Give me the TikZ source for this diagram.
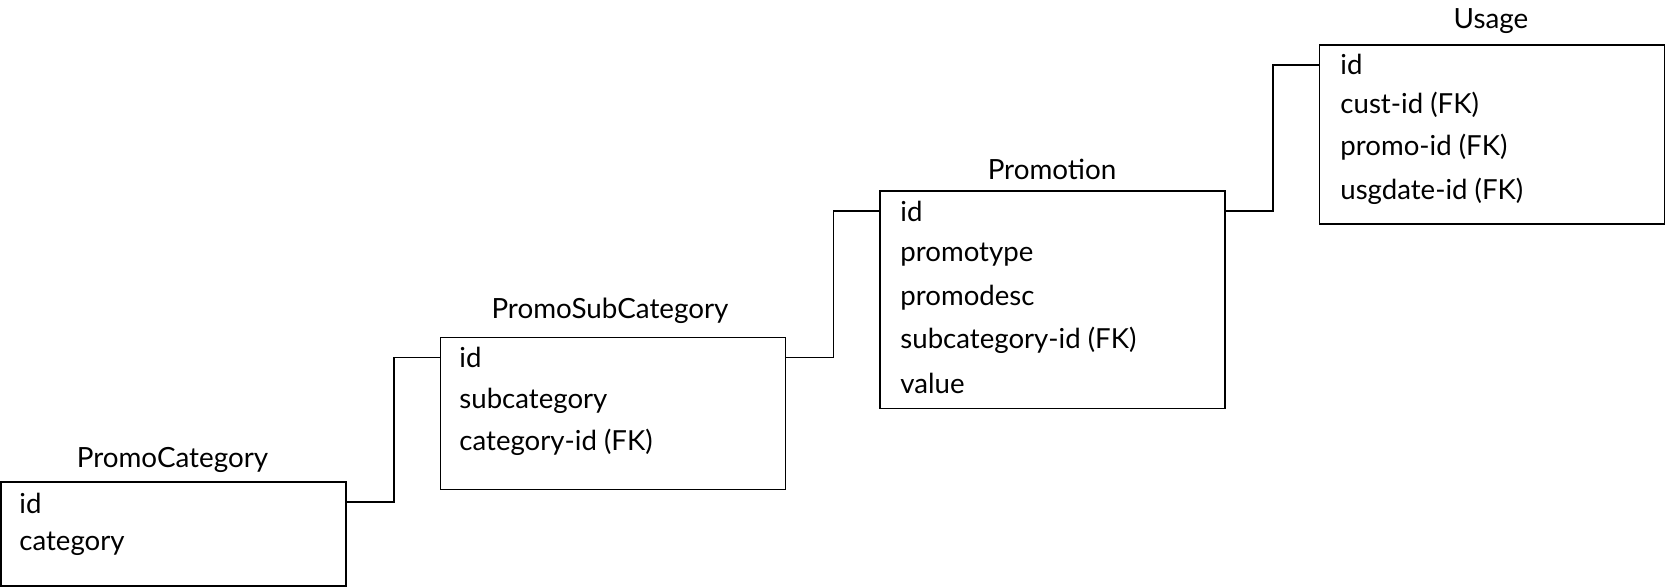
\documentclass[tikz,border=0pt]{standalone}
\usepackage{fontspec}
\setmainfont{Lato}
\usetikzlibrary{positioning}

\begin{document}
\begin{tikzpicture}[
    x=0.5pt, y=-0.5pt,
    every node/.style={font=\fontsize{13.8}{16.5}\selectfont},
    entity/.style={draw, line width=0.65pt, inner sep=0pt, outer sep=0pt, anchor=north west, minimum width=172.5pt},
    entity title/.style={anchor=base, inner sep=0pt, font=\fontsize{13.9}{16.5}\selectfont},
    attr/.style={anchor=base west, inner sep=0pt},
    link/.style={line width=0.65pt}
  ]
    \useasboundingbox (0,0) rectangle (1665,588);

    \node[entity, minimum height=52pt] (pcat) at (1,482) {};
    \node[entity title] (pcat title) at (172.5,467) {PromoCategory};
    \node[attr] (pcat id) at (19,513.3) {id};
    \node[attr] (pcat category) at (19,550.3) {category};

    \node[entity, minimum height=75.8pt] (psub) at (440.7,337.7) {};
    \node[entity title] (psub title) at (610,318.3) {PromoSubCategory};
    \node[attr] (psub id) at (459,367) {id};
    \node[attr] (psub subcategory) at (459,408) {subcategory};
    \node[attr] (psub fk) at (459,450.5) {category-id (FK)};

    \node[entity, minimum height=108.7pt] (promo) at (880,191) {};
    \node[entity title] (promo title) at (1052,180) {Promotion};
    \node[attr] (promo id) at (900,221.7) {id};
    \node[attr] (promo type) at (900,261.7) {promotype};
    \node[attr] (promo desc) at (900,306) {promodesc};
    \node[attr] (promo fk) at (900,348.3) {subcategory-id (FK)};
    \node[attr] (promo value) at (900,393.3) {value};

    \node[entity, minimum height=89.5pt] (usage) at (1319.3,45) {};
    \node[entity title] (usage title) at (1491,28.3) {Usage};
    \node[attr] (usage id) at (1340,75) {id};
    \node[attr] (usage cust) at (1340,113.3) {cust-id (FK)};
    \node[attr] (usage promo) at (1340,156) {promo-id (FK)};
    \node[attr] (usage date) at (1340,200) {usgdate-id (FK)};

    \draw[link] ([yshift=-10pt]pcat.north east) -- ++(48,0) |- ([yshift=-10pt]psub.north west);
    \draw[link] ([yshift=-10pt]psub.north east) -- ++(48,0) |- ([yshift=-10pt]promo.north west);
    \draw[link] ([yshift=-10pt]promo.north east) -- ++(48,0) |- ([yshift=-10pt]usage.north west);
  \end{tikzpicture}
\end{document}
